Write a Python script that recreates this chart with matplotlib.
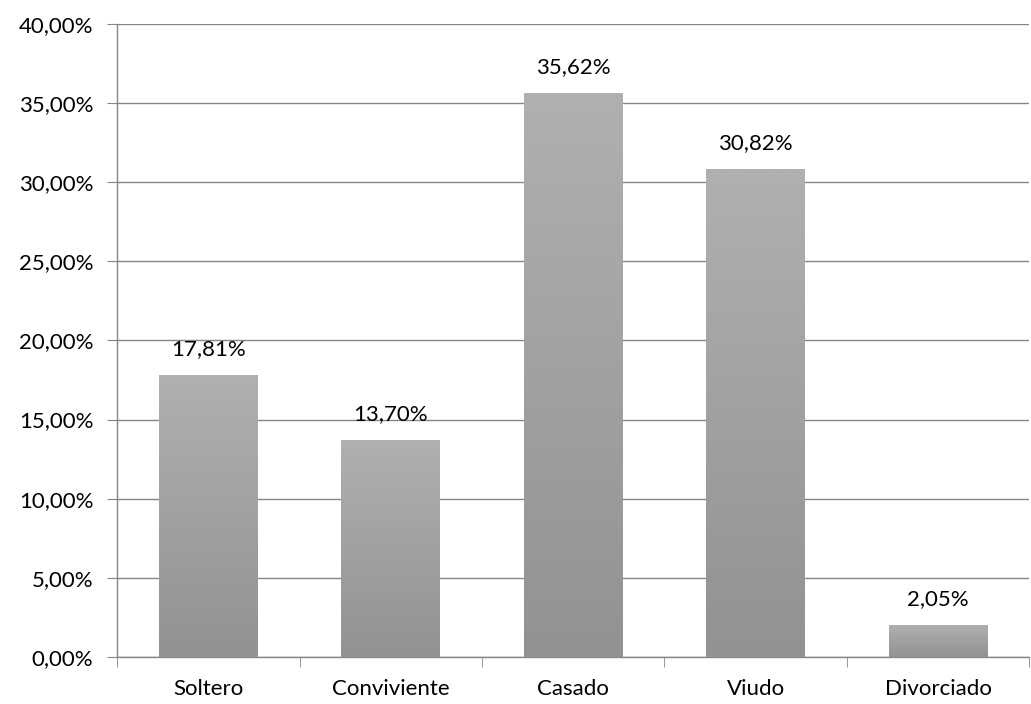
import matplotlib
matplotlib.use("Agg")
import matplotlib.pyplot as plt
import numpy as np
from matplotlib.ticker import FuncFormatter

categories = ["Soltero", "Conviviente", "Casado", "Viudo", "Divorciado"]
values = [17.81, 13.70, 35.62, 30.82, 2.05]

plt.rcParams["font.family"] = ["Lato", "DejaVu Sans"]

fig = plt.figure(figsize=(10.31, 7.04), dpi=100)
ax = fig.add_axes([0.1135, 0.0668, 0.885, 0.8992])

x = np.arange(len(categories))
width = 0.54
bars = ax.bar(x, values, width=width, color="#a2a2a2", zorder=3)

# vertical gradient on each bar (lighter at top, darker at bottom)
grad = np.linspace(0, 1, 256).reshape(-1, 1)
cmap = matplotlib.colors.LinearSegmentedColormap.from_list("g", ["#929292", "#b0b0b0"])
for b in bars:
    x0, y0 = b.get_x(), b.get_y()
    w, h = b.get_width(), b.get_height()
    im = ax.imshow(grad, cmap=cmap, aspect="auto", origin="lower",
                   extent=[x0, x0 + w, y0, y0 + h], zorder=4)
    im.set_clip_path(b)

fs = 16
for xi, v in zip(x, values):
    ax.text(xi, v + 1.0, f"{v:.2f}%".replace(".", ","), ha="center", va="bottom",
            fontsize=fs, color="#000000", zorder=5)

ax.set_xlim(-0.5, len(categories) - 0.5)
ax.set_ylim(0, 40)
ax.set_yticks(np.arange(0, 41, 5))
ax.yaxis.set_major_formatter(FuncFormatter(lambda v, p: f"{v:.2f}%".replace(".", ",")))
ax.set_xticks(x)
ax.set_xticklabels(categories)
ax.set_xticks(np.arange(-0.5, len(categories) + 0.5, 1), minor=True)
ax.tick_params(axis="x", which="major", length=0, pad=16, labelsize=fs)
ax.tick_params(axis="x", which="minor", length=7, color="#868686", direction="out")
ax.tick_params(axis="y", length=7, color="#868686", labelsize=fs, pad=10)

ax.grid(axis="y", color="#868686", linewidth=1.0, zorder=0)
ax.set_axisbelow(True)
for s in ["top", "right"]:
    ax.spines[s].set_visible(False)
for s in ["left", "bottom"]:
    ax.spines[s].set_color("#868686")
    ax.spines[s].set_linewidth(1.0)

fig.savefig("out.png", dpi=100)
